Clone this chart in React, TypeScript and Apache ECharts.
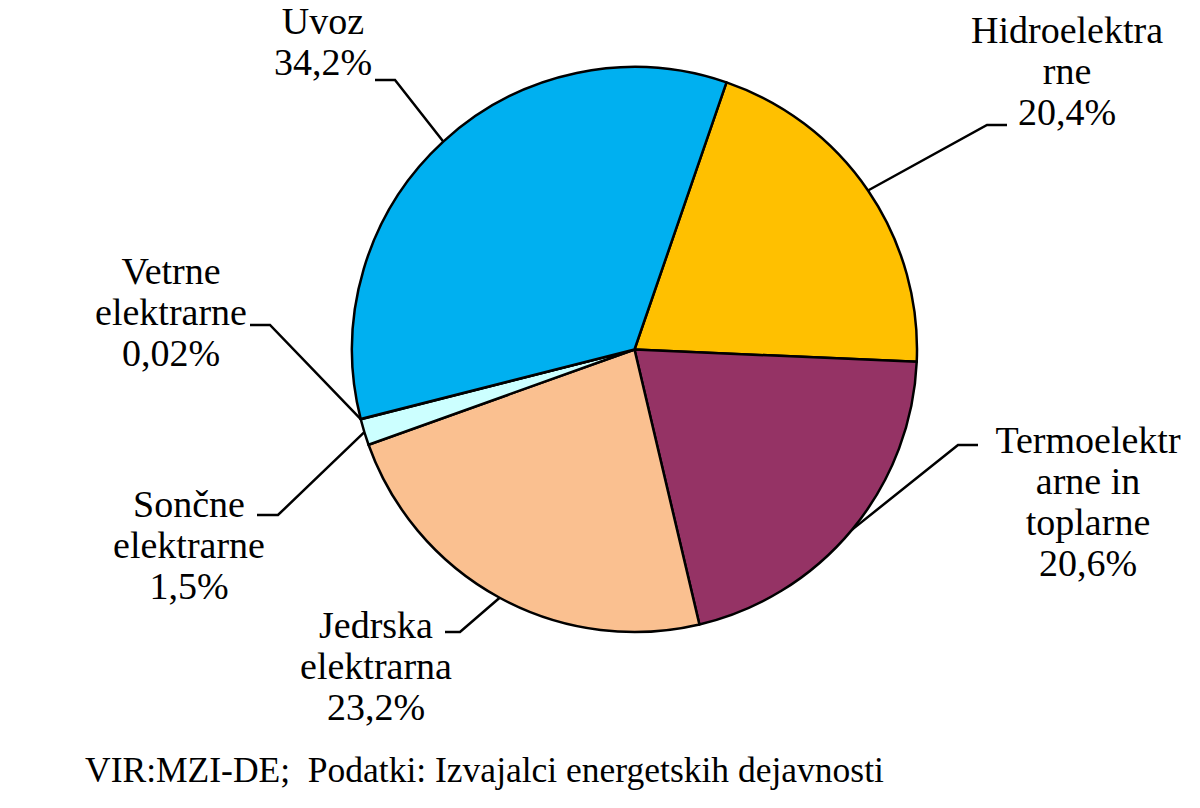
import React, { useEffect, useRef } from 'react';
import * as echarts from 'echarts';

// ---- data ----
const categories = [
  'Hidroelektra\nrne',
  'Termoelektr\narne in\ntoplarne',
  'Jedrska\nelektrarna',
  'Sončne\nelektrarne',
  'Vetrne\nelektrarne',
  'Uvoz',
];
const shares = [20.4, 20.6, 23.2, 1.5, 0.02, 34.2];
const sourceNote = 'VIR:MZI-DE;  Podatki: Izvajalci energetskih dejavnosti';

// ---- styling / layout ----
const FONT = 'Liberation Serif';
const colors = ['#FFC000', '#953365', '#FAC090', '#CCFFFF', '#00B050', '#00B0F0'];
const labelCenters = [
  [1067, 71],
  [1088, 501],
  [376, 666],
  [189, 545],
  [171, 312],
  [323, 41],
];
const elbows = [
  [987, 125],
  [958, 445],
  [460, 632],
  [278, 515],
  [270, 325],
  [395, 80],
];
const ends = [
  [1007, 125],
  [978, 445],
  [445, 632],
  [257, 515],
  [250, 325],
  [375, 80],
];
const CX = 634.5;
const CY = 349.5;
const R = 282.5;
const START = 71;

function edgePoint(i: number): number[] {
  const total = shares.reduce((a, b) => a + b, 0);
  let before = 0;
  for (let k = 0; k < i; k++) before += shares[k];
  const mid = before + shares[i] / 2;
  const ang = ((START - (mid / total) * 360) * Math.PI) / 180;
  return [CX + R * Math.cos(ang), CY - R * Math.sin(ang)];
}

function fmt(v: number): string {
  return String(v).replace('.', ',') + '%';
}

export default function App() {
  const ref = useRef<HTMLDivElement>(null);
  useEffect(() => {
    if (!ref.current) return;
    const chart = echarts.init(ref.current, undefined, { renderer: 'svg' });
    chart.setOption({
      animation: false,
      series: [
        {
          type: 'pie',
          center: [CX, CY],
          radius: R,
          startAngle: START,
          clockwise: true,
          avoidLabelOverlap: false,
          data: categories.map((name, i) => ({
            name,
            value: shares[i],
            itemStyle: { color: colors[i] },
          })),
          itemStyle: { borderColor: '#000000', borderWidth: 2.5 },
          emphasis: { disabled: true },
          label: {
            show: true,
            position: 'outside',
            formatter: (p: any) => p.name + '\n' + fmt(p.value),
            fontFamily: FONT,
            fontSize: 38,
            lineHeight: 41,
            color: '#000000',
            align: 'center',
          },
          labelLine: {
            show: true,
            lineStyle: { color: '#000000', width: 2.5 },
          },
          labelLayout: (p: any) => {
            const i = p.dataIndex;
            const start = edgePoint(i);
            return {
              x: labelCenters[i][0],
              y: labelCenters[i][1],
              align: 'center',
              verticalAlign: 'middle',
              labelLinePoints: [start, elbows[i], ends[i]],
            };
          },
        },
      ],
      graphic: [
        {
          type: 'text',
          x: 85,
          y: 752,
          style: {
            text: sourceNote,
            fontFamily: FONT,
            fontSize: 35.5,
            fill: '#000',
          },
        },
      ],
    });
    return () => chart.dispose();
  }, []);
  return (
    <div
      ref={ref}
      style={{ position: 'fixed', left: 0, top: 0, width: 1200, height: 808, background: '#ffffff' }}
    />
  );
}
